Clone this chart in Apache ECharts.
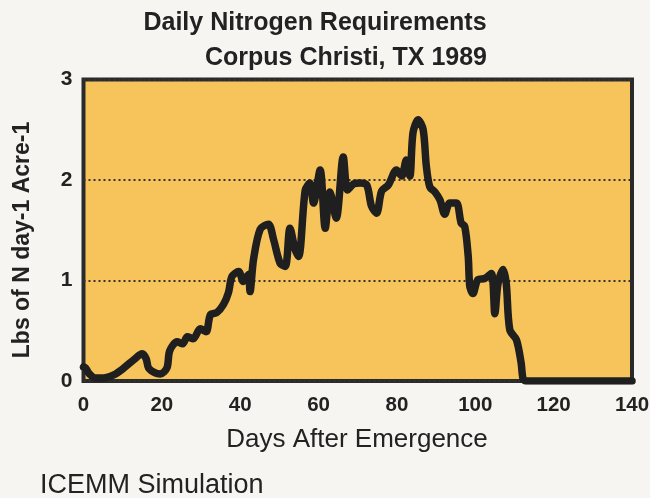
<!DOCTYPE html>
<html>
<head>
<meta charset="utf-8">
<script src="https://cdn.jsdelivr.net/npm/echarts@6/dist/echarts.min.js"></script>
<style>
  html, body { margin: 0; padding: 0; background: #f6f5f1; }
  #chart { width: 650px; height: 498px; }
</style>
</head>
<body>
<div id="chart"></div>
<script>
// Days after emergence
const days = [0, 0.5, 1.5, 3, 5, 7.7, 10, 12.8, 15, 16, 16.6, 18.3, 19.6, 21.3,
  22, 23.9, 25.3, 26.5, 28, 29.8, 31.3, 32.4, 34, 35.7, 37, 37.9, 39.6, 40.8,
  42.1, 42.5, 43.4, 45.1, 47.2, 48.5, 50.2, 51.5, 52.7, 54, 54.9, 56.6, 57.8,
  58.7, 60.4, 61.7, 62.9, 64.5, 66.3, 67.4, 68.9, 70.6, 72.3, 73.5, 74.8, 76.1,
  77.8, 79.9, 81.2, 82.4, 83.3, 84.1, 85.4, 86.7, 87.5, 88.4, 89.7, 91, 92.2,
  93.5, 95.2, 96.4, 97.3, 98.2, 98.6, 99.4, 100.7, 102.4, 104.1, 105, 105.8,
  107.1, 107.9, 108.8, 110.5, 111.7, 112.2, 113, 140];
// Lbs of N per day per acre
const nitrogen = [0.14, 0.13, 0.07, 0.03, 0.03, 0.06, 0.12, 0.21, 0.27, 0.22, 0.13, 0.08, 0.07, 0.13,
  0.30, 0.39, 0.37, 0.44, 0.42, 0.52, 0.49, 0.66, 0.68, 0.76, 0.88, 1.04, 1.09, 0.99,
  1.06, 0.89, 1.21, 1.51, 1.56, 1.41, 1.17, 1.14, 1.52, 1.31, 1.24, 1.90, 1.97,
  1.77, 2.10, 1.52, 1.88, 1.62, 2.23, 1.90, 1.96, 1.97, 1.95, 1.74, 1.67, 1.89,
  1.95, 2.10, 2.04, 2.20, 2.04, 2.47, 2.60, 2.50, 2.14, 1.93, 1.88, 1.80, 1.66,
  1.77, 1.77, 1.57, 1.54, 1.24, 0.94, 0.87, 1.01, 1.02, 1.07, 0.67, 0.97,
  1.11, 0.97, 0.51, 0.41, 0.18, 0.02, 0, 0];
const xTicks = [0, 20, 40, 60, 80, 100, 120, 140];
const yTicks = [0, 1, 2, 3];

const FONT = "'Liberation Sans', Arial, Helvetica, sans-serif";
const chart = echarts.init(document.getElementById('chart'), null, { renderer: 'canvas' });
const seriesData = days.map((d, i) => [d, nitrogen[i]]);

chart.setOption({
  backgroundColor: '#f6f5f1',
  animation: false,
  grid: {
    left: 83.5, right: 18, top: 79.5, bottom: 117,
    outerBoundsMode: 'none', containLabel: false,
    show: true, backgroundColor: '#f7c45c', borderColor: '#2a2a2a', borderWidth: 4, z: 0
  },
  xAxis: {
    type: 'value', min: xTicks[0], max: xTicks[xTicks.length - 1], interval: 20,
    axisLine: { show: false }, axisTick: { show: false }, splitLine: { show: false },
    axisLabel: { color: '#222', fontFamily: FONT, fontWeight: 'bold', fontSize: 20.5, margin: 14 }
  },
  yAxis: {
    type: 'value', min: yTicks[0], max: yTicks[yTicks.length - 1], interval: 1,
    axisLine: { show: false }, axisTick: { show: false },
    splitLine: { show: true, lineStyle: { color: '#333', width: 2, type: [2, 3] } },
    axisLabel: { color: '#222', fontFamily: FONT, fontWeight: 'bold', fontSize: 21, margin: 11 }
  },
  series: [{
    type: 'line', data: seriesData, showSymbol: false, smooth: 0.3, z: 5,
    lineStyle: { color: '#1f1f1f', width: 7.5, cap: 'round', join: 'round' }
  }],
  graphic: [
    { type: 'text', x: 315, y: 23, style: { text: 'Daily Nitrogen Requirements', fill: '#222', font: 'bold 25px ' + FONT, textAlign: 'center', textVerticalAlign: 'middle' } },
    { type: 'text', x: 346, y: 58, style: { text: 'Corpus Christi, TX 1989', fill: '#222', font: 'bold 25px ' + FONT, textAlign: 'center', textVerticalAlign: 'middle' } },
    { type: 'text', x: 357, y: 440, style: { text: 'Days After Emergence', fill: '#222', font: '26px ' + FONT, textAlign: 'center', textVerticalAlign: 'middle' } },
    { type: 'text', x: 23, y: 240, rotation: Math.PI / 2, style: { text: 'Lbs of N day-1 Acre-1', fill: '#222', font: 'bold 23px ' + FONT, textAlign: 'center', textVerticalAlign: 'middle' } },
    { type: 'text', x: 40, y: 486, style: { text: 'ICEMM Simulation', fill: '#222', font: '27px ' + FONT, textAlign: 'left', textVerticalAlign: 'middle' } }
  ]
});
</script>
</body>
</html>
